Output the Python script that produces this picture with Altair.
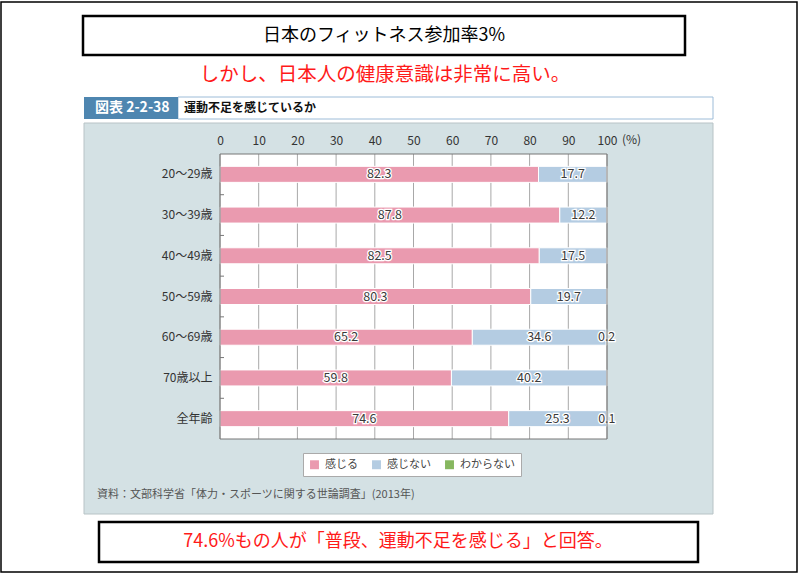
import altair as alt
import pandas as pd

categories = ["20～29歳", "30～39歳", "40～49歳", "50～59歳", "60～69歳", "70歳以上", "全年齢"]
feel = [82.3, 87.8, 82.5, 80.3, 65.2, 59.8, 74.6]
not_feel = [17.7, 12.2, 17.5, 19.7, 34.6, 40.2, 25.3]
unknown = [0.0, 0.0, 0.0, 0.0, 0.2, 0.0, 0.1]
series = ["感じる", "感じない", "わからない"]
colors = ["#ea9aaf", "#b4cce2", "#86b75f"]
tick_values = [0, 10, 20, 30, 40, 50, 60, 70, 80, 90, 100]

FONT = "Noto Sans CJK JP"
W, H = 387, 285

rows = []
for i, c in enumerate(categories):
    for j, (s, vals) in enumerate(zip(series, [feel, not_feel, unknown])):
        rows.append({"cat": c, "series": s, "ord": j, "value": vals[i]})
df = pd.DataFrame(rows)

one = alt.Data(values=[{"a": 1}])


def box(x, x2, y, y2, fill, stroke=None, sw=0):
    kw = dict(fill=fill)
    if stroke:
        kw.update(stroke=stroke, strokeWidth=sw)
    return alt.Chart(one).mark_rect(**kw).encode(
        x=alt.value(x), x2=alt.value(x2), y=alt.value(y), y2=alt.value(y2))


def label(txt, x, y, size, color, align="center", weight="normal"):
    return alt.Chart(one).mark_text(
        text=txt, font=FONT, fontSize=size, color=color, align=align,
        baseline="middle", fontWeight=weight).encode(x=alt.value(x), y=alt.value(y))


outer = box(-219, 577, -152, 418, "white", "black", 1.5)
title_box = box(-137, 465, -138, -99, "white", "black", 2.5)
title_txt = label("日本のフィットネス参加率3%", 164, -118, 18, "black")
red_txt = label("しかし、日本人の健康意識は非常に高い。", 165, -79, 19.5, "#ff1a1a")
panel = box(-136, 493, -31, 360, "#d4e1e4", "#b8c3c6", 1)
header = box(-42, 493, -57, -35, "white", "#9dbcd8", 1)
tab = box(-136, -42, -57, -35, "#4e86b0")
tab_txt = label("図表 2-2-38", -125, -46, 14, "white", align="left", weight="bold")
head_txt = label("運動不足を感じているか", -36, -46, 12, "#111", align="left", weight="bold")
plot_bg = box(0, W, 0, H, "white")
source = label("資料：文部科学省「体力・スポーツに関する世論調査」(2013年)", -123, 341, 11, "#555", align="left")
bottom_box = box(-121, 478, 368, 408, "white", "black", 2.5)
bottom_txt = label("74.6%もの人が「普段、運動不足を感じる」と回答。", 178, 388, 18, "#ff1a1a")

xscale = alt.Scale(domain=[0, 100], nice=False)
yscale = alt.Scale(domain=categories, paddingInner=0, paddingOuter=0)
xaxis = alt.Axis(orient="top", values=tick_values, grid=False, ticks=False,
                 domain=False, title=None, labelFont=FONT, labelFontSize=12,
                 labelColor="#333", labelPadding=7, labelOverlap=False,
                 labelBound=False, labelFlush=False, zindex=1)
yaxis = alt.Axis(title=None, domain=False, ticks=False, labelFont=FONT,
                 labelFontSize=12, labelColor="#333", labelPadding=8, zindex=1)

grid = alt.Chart(pd.DataFrame({"t": tick_values})).mark_rule(
    color="#a8a8a8", strokeWidth=1).encode(
    x=alt.X("t:Q", scale=xscale, axis=xaxis),
    y=alt.value(0), y2=alt.value(H))

pct = alt.Chart(one).mark_text(text="(%)", font=FONT, fontSize=12, color="#333",
                               align="left", baseline="alphabetic", dx=15).encode(
    x=alt.X(datum=100, scale=xscale, axis=xaxis), y=alt.value(-10))

base = alt.Chart(df).transform_stack(
    stack="value", groupby=["cat"], as_=["x0", "x1"], sort=[alt.SortField("ord")]
).transform_calculate(mid="(datum.x0 + datum.x1) / 2")

bars = base.mark_bar(size=16, stroke="white", strokeWidth=1).encode(
    y=alt.Y("cat:N", sort=categories, scale=yscale, axis=yaxis),
    x=alt.X("x0:Q", scale=xscale, axis=xaxis),
    x2="x1:Q",
    color=alt.Color("series:N", scale=alt.Scale(domain=series, range=colors),
                    legend=alt.Legend(orient="none", legendX=83, legendY=299,
                                      direction="horizontal", title=None,
                                      fillColor="white", strokeColor="#aaaaaa",
                                      padding=6, symbolType="square", symbolSize=80,
                                      symbolStrokeWidth=0, labelFont=FONT,
                                      labelFontSize=11, labelColor="#444",
                                      columnPadding=13, labelOffset=5)),
)

labels_base = base.transform_filter("datum.value > 0").encode(
    y=alt.Y("cat:N", sort=categories, scale=yscale, axis=yaxis),
    x=alt.X("mid:Q", scale=xscale, axis=xaxis),
    text=alt.Text("value:Q", format=".1f"))
halo = labels_base.mark_text(font=FONT, fontSize=12.5, color="white", stroke="white",
                             strokeWidth=2.5, baseline="middle")
vals = labels_base.mark_text(font=FONT, fontSize=12.5, color="#3a3a3a", baseline="middle")

sep_df = pd.DataFrame({"cat": categories[1:]})
seps = alt.Chart(sep_df).mark_rule(color="#777").encode(
    y=alt.Y("cat:N", sort=categories, scale=yscale, bandPosition=0, axis=yaxis),
    x=alt.value(0), x2=alt.value(4))

border = alt.Chart(one).mark_rect(fillOpacity=0, stroke="#777", strokeWidth=1).encode(
    x=alt.value(0), x2=alt.value(W), y=alt.value(0), y2=alt.value(H))

chart = alt.layer(
    outer, title_box, title_txt, red_txt, panel, header, tab, tab_txt, head_txt,
    plot_bg, grid, pct, bars, halo, vals, seps, border, source, bottom_box, bottom_txt
).resolve_scale(x="shared", y="shared").properties(
    width=W, height=H,
    autosize=alt.AutoSizeParams(type="none"),
    padding={"left": 220, "top": 154, "right": 192, "bottom": 138},
    background="white",
).configure_view(stroke=None).configure_axis(labelOverlap=False)

chart.save("out.html", embed_options={"renderer": "svg", "actions": False})
